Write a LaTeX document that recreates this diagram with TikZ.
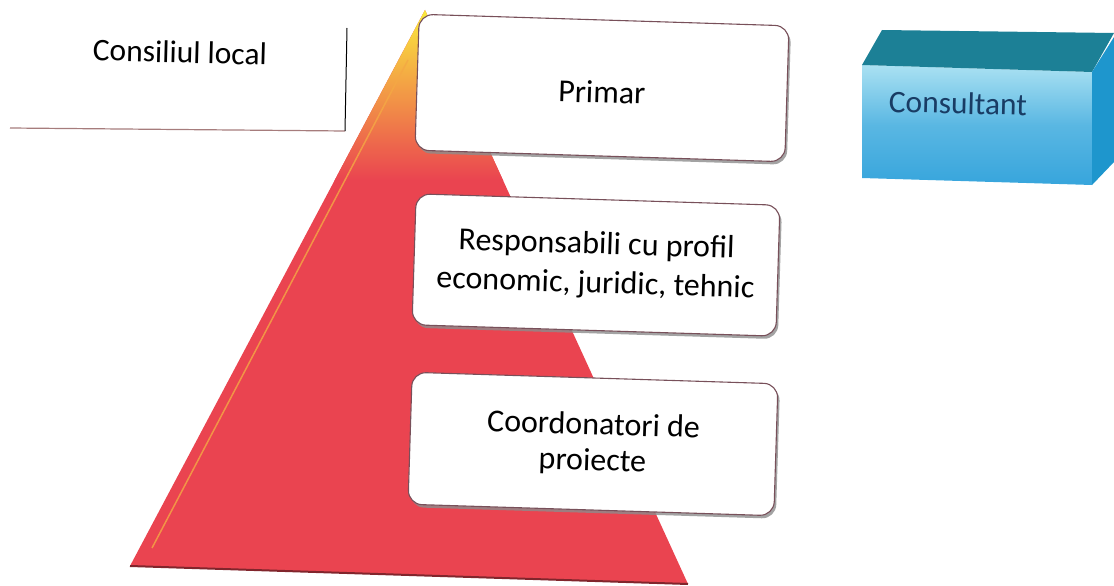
\documentclass[tikz,border=0pt]{standalone}
\usepackage{fontspec}
\setmainfont{Carlito}
\usetikzlibrary{shadows}
\definecolor{pyrred}{RGB}{234,68,80}
\definecolor{pyryel}{RGB}{250,235,60}
\definecolor{boxedge}{RGB}{120,80,90}
\definecolor{ctop}{RGB}{28,128,150}
\definecolor{cside}{RGB}{30,150,205}
\definecolor{cfrontA}{RGB}{170,225,242}
\definecolor{cfrontB}{RGB}{55,165,220}
\definecolor{ctext}{RGB}{25,60,100}
\begin{document}
\begin{tikzpicture}[x=1pt,y=-1pt,
  lvlbox/.style={draw=boxedge, fill=white, rounded corners=14pt, line width=1.1pt,
    align=center, font=\fontsize{32}{36}\selectfont, inner sep=0pt, rotate=-1.8,
    drop shadow={shadow xshift=2pt, shadow yshift=-3pt, fill=black!45, opacity=0.8}},
  plaintext/.style={font=\fontsize{31.5}{36}\selectfont, inner sep=0pt, rotate=-1.5}]
\path[use as bounding box] (0,0) rectangle (1114,586);
% pyramid
\coordinate (apex) at (425,10);
\coordinate (bl) at (130,566);
\coordinate (br) at (688,584);
\fill[pyrred] (apex)--(bl)--(br)--cycle;
\begin{scope}
  \clip (apex)--(bl)--(br)--cycle;
  \shade[top color=pyryel, bottom color=pyrred] (300,10) rectangle (560,180);
\end{scope}
\draw[pyrred!55!black, line width=2pt] (bl)--(br);
\draw[pyryel!60!pyrred, line width=1.5pt, opacity=0.8] (152,548) -- (408,60);
% levels
\node[lvlbox, minimum width=370pt, minimum height=136pt] (primar) at (602,88) {\raisebox{-4pt}[\height][\depth]{Primar}};
\node[lvlbox, minimum width=364pt, minimum height=131pt, font=\fontsize{32}{39}\selectfont] (resp) at (596,265) {Responsabili cu profil\\economic, juridic, tehnic};
\node[lvlbox, minimum width=366pt, minimum height=132pt] (coord) at (593,444) {Coordonatori de\\proiecte};
% consiliul local
\node[plaintext] (cons) at (180,52) {Consiliul local};
\coordinate (hl) at (10,128);
\coordinate (corner) at (345,131);
\coordinate (vt) at (347,28);
\draw[black!35!pink, line width=1.2pt] (hl) -- (corner);
\draw[black, line width=1pt] (vt) -- (corner);
% consultant cuboid
\shade[top color=cfrontA, bottom color=cfrontB, middle color=cfrontB!70!cfrontA] (862,65) -- (1092,72) -- (1092,185) -- (862,178) -- cycle;
\fill[ctop] (862,65) -- (882,30) -- (1114,33) -- (1092,72) -- cycle;
\fill[cside] (1092,72) -- (1114,37) -- (1114,162) -- (1092,185) -- cycle;
\node[plaintext, text=ctext] (consultant) at (958,103) {Consultant};
\end{tikzpicture}
\end{document}
